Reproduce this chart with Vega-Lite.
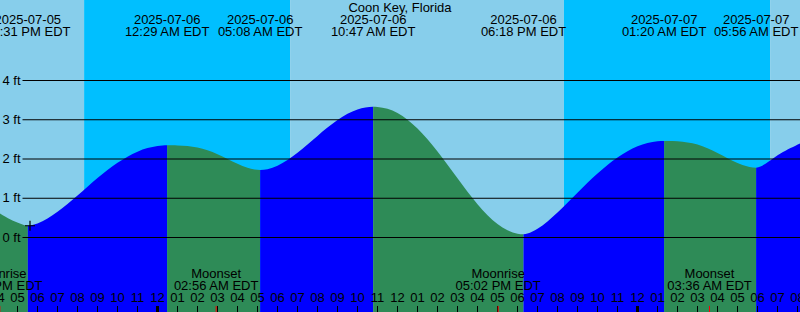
{
  "$schema": "https://vega.github.io/schema/vega-lite/v6.json",
  "width": 800,
  "height": 312,
  "padding": 0,
  "autosize": {"type": "none"},
  "config": {
    "view": {"stroke": null},
    "axis": {"disable": true},
    "text": {"font": "Liberation Sans", "fontSize": 13, "color": "#000000"}
  },
  "datasets": {
    "bg": [
      {"start": 16.0, "end": 20.33, "period": "day"},
      {"start": 20.33, "end": 30.63, "period": "night"},
      {"start": 30.63, "end": 44.32, "period": "day"},
      {"start": 44.32, "end": 54.63, "period": "night"},
      {"start": 54.63, "end": 56.3, "period": "day"}
    ],
    "tide": [
      {"t": 16.1, "h": 0.62, "seg": 0, "dir": "fall"},
      {"t": 16.4, "h": 0.53, "seg": 0, "dir": "fall"},
      {"t": 16.65, "h": 0.46, "seg": 0, "dir": "fall"},
      {"t": 16.9, "h": 0.4, "seg": 0, "dir": "fall"},
      {"t": 17.15, "h": 0.35, "seg": 0, "dir": "fall"},
      {"t": 17.35, "h": 0.31, "seg": 0, "dir": "fall"},
      {"t": 17.517, "h": 0.3, "seg": 0, "dir": "fall"},
      {"t": 17.517, "h": 0.3, "seg": 1, "dir": "rise"},
      {"t": 17.75, "h": 0.317, "seg": 1, "dir": "rise"},
      {"t": 18, "h": 0.356, "seg": 1, "dir": "rise"},
      {"t": 18.5, "h": 0.483, "seg": 1, "dir": "rise"},
      {"t": 19, "h": 0.654, "seg": 1, "dir": "rise"},
      {"t": 19.5, "h": 0.854, "seg": 1, "dir": "rise"},
      {"t": 20, "h": 1.071, "seg": 1, "dir": "rise"},
      {"t": 20.5, "h": 1.294, "seg": 1, "dir": "rise"},
      {"t": 21, "h": 1.513, "seg": 1, "dir": "rise"},
      {"t": 21.5, "h": 1.718, "seg": 1, "dir": "rise"},
      {"t": 22, "h": 1.903, "seg": 1, "dir": "rise"},
      {"t": 22.5, "h": 2.06, "seg": 1, "dir": "rise"},
      {"t": 23, "h": 2.187, "seg": 1, "dir": "rise"},
      {"t": 23.5, "h": 2.278, "seg": 1, "dir": "rise"},
      {"t": 24, "h": 2.333, "seg": 1, "dir": "rise"},
      {"t": 24.25, "h": 2.346, "seg": 1, "dir": "rise"},
      {"t": 24.483, "h": 2.35, "seg": 1, "dir": "rise"},
      {"t": 24.483, "h": 2.35, "seg": 2, "dir": "fall"},
      {"t": 24.75, "h": 2.35, "seg": 2, "dir": "fall"},
      {"t": 25, "h": 2.347, "seg": 2, "dir": "fall"},
      {"t": 25.5, "h": 2.331, "seg": 2, "dir": "fall"},
      {"t": 26, "h": 2.292, "seg": 2, "dir": "fall"},
      {"t": 26.5, "h": 2.222, "seg": 2, "dir": "fall"},
      {"t": 27, "h": 2.122, "seg": 2, "dir": "fall"},
      {"t": 27.5, "h": 2.001, "seg": 2, "dir": "fall"},
      {"t": 28, "h": 1.877, "seg": 2, "dir": "fall"},
      {"t": 28.5, "h": 1.775, "seg": 2, "dir": "fall"},
      {"t": 28.85, "h": 1.732, "seg": 2, "dir": "fall"},
      {"t": 29.133, "h": 1.72, "seg": 2, "dir": "fall"},
      {"t": 29.133, "h": 1.72, "seg": 3, "dir": "rise"},
      {"t": 29.5, "h": 1.742, "seg": 3, "dir": "rise"},
      {"t": 30, "h": 1.83, "seg": 3, "dir": "rise"},
      {"t": 30.5, "h": 1.973, "seg": 3, "dir": "rise"},
      {"t": 31, "h": 2.158, "seg": 3, "dir": "rise"},
      {"t": 31.5, "h": 2.368, "seg": 3, "dir": "rise"},
      {"t": 32, "h": 2.588, "seg": 3, "dir": "rise"},
      {"t": 32.5, "h": 2.801, "seg": 3, "dir": "rise"},
      {"t": 33, "h": 2.993, "seg": 3, "dir": "rise"},
      {"t": 33.5, "h": 3.15, "seg": 3, "dir": "rise"},
      {"t": 34, "h": 3.262, "seg": 3, "dir": "rise"},
      {"t": 34.4, "h": 3.314, "seg": 3, "dir": "rise"},
      {"t": 34.783, "h": 3.33, "seg": 3, "dir": "rise"},
      {"t": 34.783, "h": 3.33, "seg": 4, "dir": "fall"},
      {"t": 35, "h": 3.326, "seg": 4, "dir": "fall"},
      {"t": 35.5, "h": 3.278, "seg": 4, "dir": "fall"},
      {"t": 36, "h": 3.17, "seg": 4, "dir": "fall"},
      {"t": 36.5, "h": 3.001, "seg": 4, "dir": "fall"},
      {"t": 37, "h": 2.777, "seg": 4, "dir": "fall"},
      {"t": 37.5, "h": 2.503, "seg": 4, "dir": "fall"},
      {"t": 38, "h": 2.191, "seg": 4, "dir": "fall"},
      {"t": 38.5, "h": 1.854, "seg": 4, "dir": "fall"},
      {"t": 39, "h": 1.507, "seg": 4, "dir": "fall"},
      {"t": 39.5, "h": 1.167, "seg": 4, "dir": "fall"},
      {"t": 40, "h": 0.85, "seg": 4, "dir": "fall"},
      {"t": 40.5, "h": 0.57, "seg": 4, "dir": "fall"},
      {"t": 41, "h": 0.344, "seg": 4, "dir": "fall"},
      {"t": 41.5, "h": 0.182, "seg": 4, "dir": "fall"},
      {"t": 42, "h": 0.095, "seg": 4, "dir": "fall"},
      {"t": 42.3, "h": 0.08, "seg": 4, "dir": "fall"},
      {"t": 42.3, "h": 0.08, "seg": 5, "dir": "rise"},
      {"t": 42.5, "h": 0.1, "seg": 5, "dir": "rise"},
      {"t": 43, "h": 0.223, "seg": 5, "dir": "rise"},
      {"t": 43.5, "h": 0.41, "seg": 5, "dir": "rise"},
      {"t": 44, "h": 0.636, "seg": 5, "dir": "rise"},
      {"t": 44.5, "h": 0.883, "seg": 5, "dir": "rise"},
      {"t": 45, "h": 1.139, "seg": 5, "dir": "rise"},
      {"t": 45.5, "h": 1.392, "seg": 5, "dir": "rise"},
      {"t": 46, "h": 1.631, "seg": 5, "dir": "rise"},
      {"t": 46.5, "h": 1.85, "seg": 5, "dir": "rise"},
      {"t": 47, "h": 2.041, "seg": 5, "dir": "rise"},
      {"t": 47.5, "h": 2.2, "seg": 5, "dir": "rise"},
      {"t": 48, "h": 2.322, "seg": 5, "dir": "rise"},
      {"t": 48.5, "h": 2.406, "seg": 5, "dir": "rise"},
      {"t": 49, "h": 2.452, "seg": 5, "dir": "rise"},
      {"t": 49.333, "h": 2.46, "seg": 5, "dir": "rise"},
      {"t": 49.333, "h": 2.46, "seg": 6, "dir": "fall"},
      {"t": 49.75, "h": 2.458, "seg": 6, "dir": "fall"},
      {"t": 50.25, "h": 2.442, "seg": 6, "dir": "fall"},
      {"t": 50.75, "h": 2.4, "seg": 6, "dir": "fall"},
      {"t": 51.25, "h": 2.325, "seg": 6, "dir": "fall"},
      {"t": 51.75, "h": 2.219, "seg": 6, "dir": "fall"},
      {"t": 52.25, "h": 2.09, "seg": 6, "dir": "fall"},
      {"t": 52.75, "h": 1.957, "seg": 6, "dir": "fall"},
      {"t": 53.25, "h": 1.846, "seg": 6, "dir": "fall"},
      {"t": 53.6, "h": 1.797, "seg": 6, "dir": "fall"},
      {"t": 53.933, "h": 1.78, "seg": 6, "dir": "fall"},
      {"t": 53.933, "h": 1.78, "seg": 7, "dir": "rise"},
      {"t": 54.15, "h": 1.81, "seg": 7, "dir": "rise"},
      {"t": 54.4, "h": 1.88, "seg": 7, "dir": "rise"},
      {"t": 54.65, "h": 1.97, "seg": 7, "dir": "rise"},
      {"t": 54.9, "h": 2.06, "seg": 7, "dir": "rise"},
      {"t": 55.15, "h": 2.14, "seg": 7, "dir": "rise"},
      {"t": 55.4, "h": 2.21, "seg": 7, "dir": "rise"},
      {"t": 55.65, "h": 2.28, "seg": 7, "dir": "rise"},
      {"t": 55.9, "h": 2.34, "seg": 7, "dir": "rise"},
      {"t": 56.2, "h": 2.41, "seg": 7, "dir": "rise"}
    ],
    "grid": [
      {"h": 0, "label": "0 ft"},
      {"h": 1, "label": "1 ft"},
      {"h": 2, "label": "2 ft"},
      {"h": 3, "label": "3 ft"},
      {"h": 4, "label": "4 ft"}
    ],
    "events": [
      {"t": 17.517, "date": "2025-07-05", "time": "05:31 PM EDT"},
      {"t": 24.483, "date": "2025-07-06", "time": "12:29 AM EDT"},
      {"t": 29.133, "date": "2025-07-06", "time": "05:08 AM EDT"},
      {"t": 34.783, "date": "2025-07-06", "time": "10:47 AM EDT"},
      {"t": 42.3, "date": "2025-07-06", "time": "06:18 PM EDT"},
      {"t": 49.333, "date": "2025-07-07", "time": "01:20 AM EDT"},
      {"t": 53.933, "date": "2025-07-07", "time": "05:56 AM EDT"}
    ],
    "moon": [
      {"t": 16.117, "name": "Moonrise", "time": "04:07 PM EDT"},
      {"t": 26.933, "name": "Moonset", "time": "02:56 AM EDT"},
      {"t": 41.033, "name": "Moonrise", "time": "05:02 PM EDT"},
      {"t": 51.6, "name": "Moonset", "time": "03:36 AM EDT"}
    ],
    "hours": [
      {"t": 16, "label": "04", "kind": "hour"},
      {"t": 17, "label": "05", "kind": "hour"},
      {"t": 18, "label": "06", "kind": "hour"},
      {"t": 19, "label": "07", "kind": "hour"},
      {"t": 20, "label": "08", "kind": "hour"},
      {"t": 21, "label": "09", "kind": "hour"},
      {"t": 22, "label": "10", "kind": "hour"},
      {"t": 23, "label": "11", "kind": "hour"},
      {"t": 24, "label": "12", "kind": "midnight"},
      {"t": 25, "label": "01", "kind": "hour"},
      {"t": 26, "label": "02", "kind": "hour"},
      {"t": 27, "label": "03", "kind": "hour"},
      {"t": 28, "label": "04", "kind": "hour"},
      {"t": 29, "label": "05", "kind": "hour"},
      {"t": 30, "label": "06", "kind": "hour"},
      {"t": 31, "label": "07", "kind": "hour"},
      {"t": 32, "label": "08", "kind": "hour"},
      {"t": 33, "label": "09", "kind": "hour"},
      {"t": 34, "label": "10", "kind": "hour"},
      {"t": 35, "label": "11", "kind": "hour"},
      {"t": 36, "label": "12", "kind": "hour"},
      {"t": 37, "label": "01", "kind": "hour"},
      {"t": 38, "label": "02", "kind": "hour"},
      {"t": 39, "label": "03", "kind": "hour"},
      {"t": 40, "label": "04", "kind": "hour"},
      {"t": 41, "label": "05", "kind": "hour"},
      {"t": 42, "label": "06", "kind": "hour"},
      {"t": 43, "label": "07", "kind": "hour"},
      {"t": 44, "label": "08", "kind": "hour"},
      {"t": 45, "label": "09", "kind": "hour"},
      {"t": 46, "label": "10", "kind": "hour"},
      {"t": 47, "label": "11", "kind": "hour"},
      {"t": 48, "label": "12", "kind": "midnight"},
      {"t": 49, "label": "01", "kind": "hour"},
      {"t": 50, "label": "02", "kind": "hour"},
      {"t": 51, "label": "03", "kind": "hour"},
      {"t": 52, "label": "04", "kind": "hour"},
      {"t": 53, "label": "05", "kind": "hour"},
      {"t": 54, "label": "06", "kind": "hour"},
      {"t": 55, "label": "07", "kind": "hour"},
      {"t": 56, "label": "08", "kind": "hour"}
    ],
    "now": [
      {"t": 17.625, "h": 0.3}
    ],
    "title": [
      {"t": 36.125, "label": "Coon Key, Florida"}
    ]
  },
  "layer": [
    {
      "data": {"name": "bg"},
      "mark": {"type": "rect", "clip": true},
      "encoding": {
        "x": {"field": "start", "type": "quantitative", "scale": {"domain": [16.125, 56.125], "nice": false, "zero": false}},
        "x2": {"field": "end"},
        "y": {"datum": -1.898, "type": "quantitative", "scale": {"domain": [-1.898, 6.051], "nice": false, "zero": false}},
        "y2": {"datum": 6.051},
        "color": {"field": "period", "type": "nominal", "legend": null,
          "scale": {"domain": ["day", "night", "rise", "fall"], "range": ["#87CEEB", "#00BFFF", "#0000FF", "#2E8B57"]}}
      }
    },
    {
      "data": {"name": "tide"},
      "mark": {"type": "area", "interpolate": "monotone", "clip": true, "opacity": 1},
      "encoding": {
        "x": {"field": "t", "type": "quantitative", "scale": {"domain": [16.125, 56.125], "nice": false, "zero": false}},
        "y": {"field": "h", "type": "quantitative", "scale": {"domain": [-1.898, 6.051], "nice": false, "zero": false}},
        "y2": {"datum": -1.898},
        "color": {"field": "dir", "type": "nominal", "legend": null,
          "scale": {"domain": ["day", "night", "rise", "fall"], "range": ["#87CEEB", "#00BFFF", "#0000FF", "#2E8B57"]}},
        "detail": {"field": "seg", "type": "nominal"}
      }
    },
    {
      "data": {"name": "grid"},
      "mark": {"type": "rule", "color": "#000000", "strokeWidth": 1},
      "encoding": {
        "x": {"datum": 17.25, "type": "quantitative"},
        "x2": {"datum": 56.125},
        "y": {"field": "h", "type": "quantitative"}
      }
    },
    {
      "data": {"name": "grid"},
      "mark": {"type": "text", "align": "right", "baseline": "middle"},
      "encoding": {
        "x": {"datum": 17.15, "type": "quantitative"},
        "y": {"field": "h", "type": "quantitative"},
        "text": {"field": "label"}
      }
    },
    {
      "data": {"name": "title"},
      "mark": {"type": "text", "align": "center", "baseline": "alphabetic"},
      "encoding": {
        "x": {"field": "t", "type": "quantitative"},
        "y": {"datum": 5.745, "type": "quantitative"},
        "text": {"field": "label"}
      }
    },
    {
      "data": {"name": "events"},
      "mark": {"type": "text", "align": "center", "baseline": "alphabetic"},
      "encoding": {
        "x": {"field": "t", "type": "quantitative"},
        "y": {"datum": 5.439, "type": "quantitative"},
        "text": {"field": "date"}
      }
    },
    {
      "data": {"name": "events"},
      "mark": {"type": "text", "align": "center", "baseline": "alphabetic"},
      "encoding": {
        "x": {"field": "t", "type": "quantitative"},
        "y": {"datum": 5.134, "type": "quantitative"},
        "text": {"field": "time"}
      }
    },
    {
      "data": {"name": "moon"},
      "mark": {"type": "text", "align": "center", "baseline": "alphabetic"},
      "encoding": {
        "x": {"field": "t", "type": "quantitative"},
        "y": {"datum": -1.032, "type": "quantitative"},
        "text": {"field": "name"}
      }
    },
    {
      "data": {"name": "moon"},
      "mark": {"type": "text", "align": "center", "baseline": "alphabetic"},
      "encoding": {
        "x": {"field": "t", "type": "quantitative"},
        "y": {"datum": -1.325, "type": "quantitative"},
        "text": {"field": "time"}
      }
    },
    {
      "data": {"name": "hours"},
      "mark": {"type": "text", "align": "center", "baseline": "alphabetic"},
      "encoding": {
        "x": {"field": "t", "type": "quantitative"},
        "y": {"datum": -1.636, "type": "quantitative"},
        "text": {"field": "label"}
      }
    },
    {
      "data": {"name": "hours"},
      "mark": {"type": "rule", "color": "#000000"},
      "encoding": {
        "x": {"field": "t", "type": "quantitative"},
        "y": {"datum": -1.745, "type": "quantitative"},
        "y2": {"datum": -1.898},
        "strokeWidth": {"field": "kind", "type": "nominal", "legend": null,
          "scale": {"type": "ordinal", "domain": ["hour", "midnight"], "range": [1, 3]}}
      }
    },
    {
      "data": {"name": "moon"},
      "mark": {"type": "rule", "color": "#FF0000", "strokeWidth": 1},
      "encoding": {
        "x": {"field": "t", "type": "quantitative"},
        "y": {"datum": -1.745, "type": "quantitative"},
        "y2": {"datum": -1.898}
      }
    },
    {
      "data": {"name": "now"},
      "mark": {"type": "point", "shape": "M-1,0H1M0,-1V1", "size": 100, "filled": false, "color": "#000000", "strokeWidth": 1.2, "opacity": 1},
      "encoding": {
        "x": {"field": "t", "type": "quantitative"},
        "y": {"field": "h", "type": "quantitative"}
      }
    }
  ]
}
